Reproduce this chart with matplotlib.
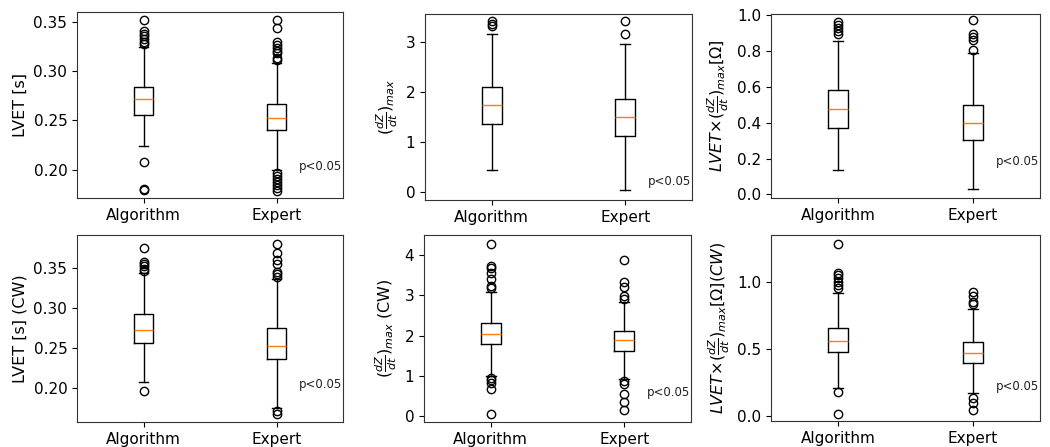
import matplotlib
matplotlib.use('Agg')
import matplotlib.pyplot as plt

groups = ['Algorithm', 'Expert']

ylabels = ['LVET [s]',
           r'$(\frac{dZ}{dt})_{max}$',
           r'$LVET{\times}(\frac{dZ}{dt})_{max}[\Omega]$',
           'LVET [s] (CW)',
           r'$(\frac{dZ}{dt})_{max}$ (CW)',
           r'$LVET{\times}(\frac{dZ}{dt})_{max}[\Omega](CW)$']

# box statistics per panel: [Algorithm, Expert]
medians = [[0.272, 0.252], [1.73, 1.50], [0.479, 0.397],
           [0.272, 0.252], [2.05, 1.90], [0.561, 0.471]]
q1s = [[0.256, 0.240], [1.36, 1.12], [0.371, 0.302],
       [0.256, 0.236], [1.78, 1.625], [0.474, 0.392]]
q3s = [[0.284, 0.267], [2.10, 1.86], [0.581, 0.501],
       [0.292, 0.275], [2.32, 2.12], [0.653, 0.554]]
whis_lo = [[0.224, 0.200], [0.44, 0.053], [0.135, 0.028],
           [0.208, 0.176], [0.98, 0.91], [0.209, 0.167]]
whis_hi = [[0.3245, 0.3085], [3.16, 2.96], [0.855, 0.787],
           [0.344, 0.336], [3.09, 2.84], [0.918, 0.798]]

fliers_alg = [
    [0.352, 0.341, 0.338, 0.336, 0.333, 0.330, 0.328, 0.2075, 0.180, 0.179],
    [3.42, 3.35, 3.31],
    [0.963, 0.944, 0.926, 0.913, 0.896],
    [0.375, 0.3575, 0.354, 0.3517, 0.349, 0.3463, 0.196],
    [4.28, 3.74, 3.675, 3.57, 3.41, 3.23, 3.175, 0.94, 0.88, 0.825, 0.675, 0.042],
    [1.287, 1.07, 1.052, 1.027, 1.002, 0.978, 0.953, 0.180, 0.015],
]
fliers_exp = [
    [0.3527, 0.3446, 0.3296, 0.3265, 0.3238, 0.321, 0.3187, 0.3136, 0.312,
     0.196, 0.193, 0.190, 0.187, 0.184, 0.181, 0.1786],
    [3.42, 3.16],
    [0.970, 0.892, 0.879, 0.863, 0.803],
    [0.380, 0.368, 0.360, 0.355, 0.345, 0.3417, 0.3388, 0.1713, 0.1675],
    [3.88, 3.325, 3.217, 2.983, 2.908, 0.867, 0.80, 0.55, 0.342, 0.15],
    [0.923, 0.898, 0.853, 0.835, 0.135, 0.092, 0.042],
]

ylims = [(0.171, 0.3605), (-0.15, 3.55), (-0.02, 1.006),
         (0.158, 0.3907), (-0.158, 4.508), (-0.04, 1.352)]
yticks = [None, [0, 1, 2, 3], None, None, [0, 1, 2, 3, 4], [0.0, 0.5, 1.0]]
ptext_y = [0.17, 0.10, 0.20, 0.20, 0.157, 0.188]

# axes rectangles in pixels (left, right, top, bottom)
W, H = 1050, 447
rects = [(77, 343, 12, 198), (425, 692, 14, 200), (771, 1040, 14, 198),
         (77, 343, 235, 422), (424, 691, 235, 422), (771, 1040, 235, 421)]

plt.rcParams['font.size'] = 11
plt.rcParams['axes.edgecolor'] = '#333333'
fig = plt.figure(figsize=(W / 100, H / 100), dpi=100)

for i in range(6):
    l, r, t, b = rects[i]
    ax = fig.add_axes([l / W, 1 - b / H, (r - l) / W, (b - t) / H])
    stats = []
    for j, name in enumerate(groups):
        fl = fliers_alg[i] if j == 0 else fliers_exp[i]
        stats.append(dict(label=name, med=medians[i][j], q1=q1s[i][j], q3=q3s[i][j],
                          whislo=whis_lo[i][j], whishi=whis_hi[i][j], fliers=fl))
    ax.bxp(stats, showfliers=True)
    ax.set_ylim(*ylims[i])
    ax.set_xlim(0.5, 2.5)
    if yticks[i] is not None:
        ax.set_yticks(yticks[i])
    ax.set_ylabel(ylabels[i], fontsize=11.5)
    ax.text(0.997, ptext_y[i], 'p<0.05', transform=ax.transAxes,
            fontsize=8.5, ha='right', va='center', color='#222222')

fig.savefig('out.png', dpi=100)
